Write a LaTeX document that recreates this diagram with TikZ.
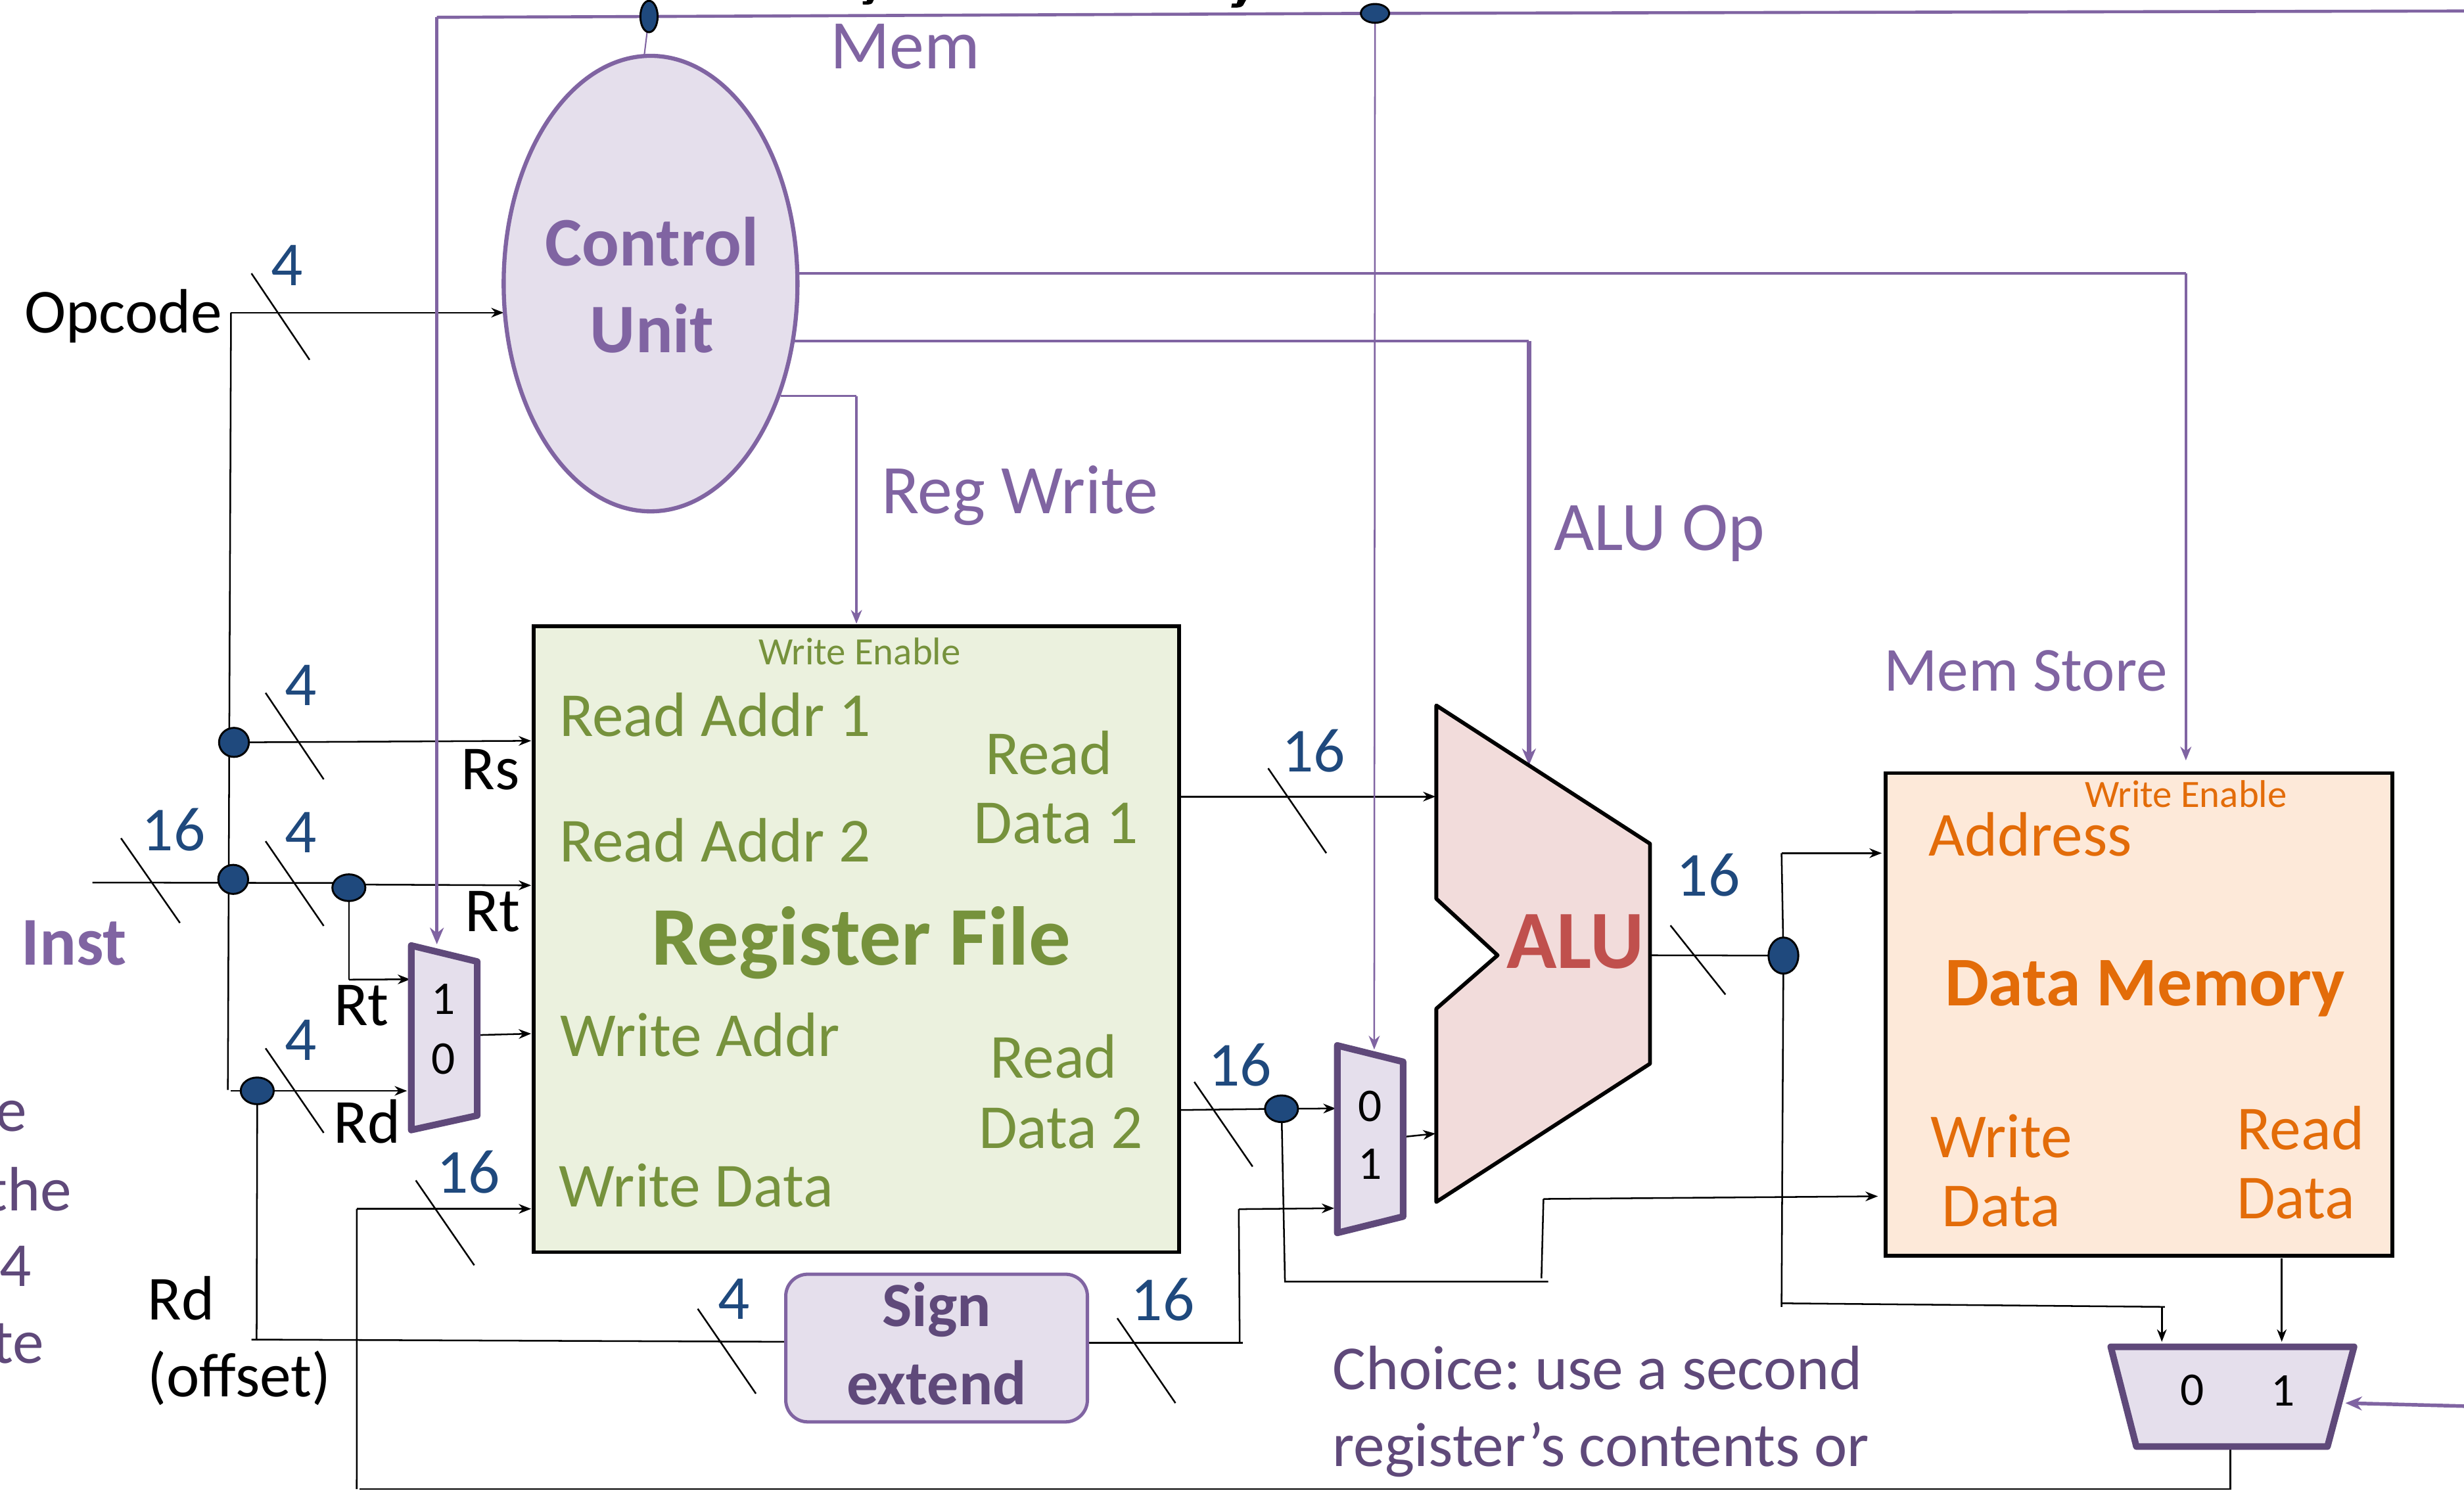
\documentclass[tikz,border=0pt]{standalone}
\usepackage{fontspec}
\setmainfont{Carlito}
\usetikzlibrary{arrows.meta,shapes.geometric,backgrounds}
\AtBeginDocument{\frenchspacing}
\definecolor{purp}{HTML}{8064A2}
\definecolor{dpurp}{HTML}{5F497A}
\definecolor{lpurp}{HTML}{E5DFEC}
\definecolor{navy}{HTML}{1F497D}
\definecolor{grn}{HTML}{76923C}
\definecolor{lgrn}{HTML}{EBF1DE}
\definecolor{org}{HTML}{E36C09}
\definecolor{lorg}{HTML}{FDE9D9}
\definecolor{lred}{HTML}{F2DCDB}
\definecolor{red2}{HTML}{C0504D}
\newcommand{\fsz}[1]{\fontsize{#1}{1.22\dimexpr #1pt\relax}\selectfont}
\tikzset{
  x=0.02cm,y=-0.02cm,
  lab/.style={inner sep=0,outer sep=0,align=center,font=\fsz{22.7}},
  num/.style={lab,text=navy},
  blk/.style={lab,text=black},
  pur/.style={lab,text=purp},
  biglab/.style={font=\fsz{25.2}},
  dpu/.style={lab,text=dpurp},
  gr/.style={lab,text=grn},
  or/.style={lab,text=org},
  mx/.style={lab,text=black,font=\fsz{17}},
  small/.style={font=\fsz{14}},
  bold/.style={font=\fsz{#1}\bfseries},
  wire/.style={draw=black,line width=0.6pt},
  awire/.style={wire,-{Stealth[length=4.5pt,width=3.5pt]}},
  pwire/.style={draw=purp,line width=1.1pt},
  apwire/.style={pwire,-{Stealth[length=6pt,width=5pt]}},
  tick/.style={draw=black,line width=0.6pt},
  jdot/.style={ellipse,draw=black,line width=0.7pt,fill=navy,inner sep=0,outer sep=0,minimum width=#1},
  blockb/.style={draw=black,line width=1.4pt,inner sep=0,outer sep=0},
  muxs/.style={draw=dpurp,fill=lpurp,line width=2.4pt,line join=round},
}
\begin{document}
\begin{tikzpicture}
\path[use as bounding box] (0,0) rectangle (1568,948.6);
% ---- cropped descenders at the top edge
\fill[black] (552,-1) -- (556.5,-1) -- (555,2) .. controls (554.5,3) and (551,3) .. (549,2.8) -- (549,0.8) -- (551.5,0.8) -- cycle;
\fill[black] (788,-1) -- (793.5,-1) -- (791,3.5) .. controls (790,5) and (786,5) .. (783.5,4.8) -- (784,2.2) -- (787,2.2) -- cycle;
% ---- blocks
\node[ellipse,draw=purp,fill=lpurp,line width=1.5pt,inner sep=0,outer sep=0,minimum width=3.74cm,minimum height=5.8cm] (ctrl) at (414,180.5) {};
\node[blockb,fill=lgrn,minimum width=8.22cm,minimum height=7.97cm] (reg) at (545,597.75) {};
\node[blockb,fill=lorg,minimum width=6.45cm,minimum height=6.146cm] (mem) at (1361.25,645.65) {};
\node[draw=purp,fill=lpurp,line width=1.2pt,rounded corners=0.28cm,inner sep=0,outer sep=0,minimum width=3.84cm,minimum height=1.88cm] (sign) at (596,858) {};
\draw[blockb,fill=lred,line join=round] (914,449) -- (1050,537) -- (1050,677) -- (914,765) -- (914,642) -- (953,608) -- (914,572) -- cycle;
\draw[muxs] (261.7,601.8) -- (303.7,612) -- (303.7,710) -- (261.7,719.2) -- cycle;
\draw[muxs] (851,665.4) -- (892.9,675.8) -- (892.9,774.3) -- (851,784.7) -- cycle;
\draw[muxs] (1343.2,857.2) -- (1498,857.2) -- (1481.1,920.7) -- (1359.5,920.7) -- cycle;
% ---- junctions
\node[jdot=0.22cm,minimum height=0.4cm] (jtopa) at (413,10.5) {};
\node[jdot=0.36cm,minimum height=0.24cm] (jtopb) at (875,8.5) {};
\node[jdot=0.38cm,minimum height=0.37cm] (ja) at (148.9,472.5) {};
\node[jdot=0.38cm,minimum height=0.37cm] (jb) at (148.4,559.7) {};
\node[jdot=0.42cm,minimum height=0.34cm] (jc) at (222,565) {};
\node[jdot=0.42cm,minimum height=0.34cm] (jd) at (163.7,694.3) {};
\node[jdot=0.42cm,minimum height=0.34cm] (je) at (815.5,705.7) {};
\node[jdot=0.38cm,minimum height=0.46cm] (jf) at (1134.9,608.2) {};
% ---- port coordinates
\coordinate (opc) at (147,199);
\coordinate (ctrlin) at (320.5,199);
\coordinate (instin) at (58.8,561.7);
\coordinate (jcw) at (214,562);
\coordinate (jcr) at (230,563);
\coordinate (regrs) at (338,471.5);
\coordinate (regrt) at (338,563.5);
\coordinate (regwa) at (338,657.9);
\coordinate (regwd) at (338,769.4);
\coordinate (mxaT) at (278,601);
\coordinate (mxaA) at (261,623.3);
\coordinate (mxaB) at (259,694.3);
\coordinate (mxaO) at (304,658.8);
\coordinate (rtbend) at (222,623.5);
\coordinate (leftend) at (145,693.7);
\coordinate (rdl) at (147,694.3);
\coordinate (offb) at (163.3,853.2);
\coordinate (offl) at (160,852.6);
\coordinate (signin) at (500,854);
\coordinate (signout) at (692,854.6);
\coordinate (signr) at (791,854.6);
\coordinate (sv) at (788.9,854.6);
\coordinate (sh) at (788.3,769.6);
\coordinate (mxbB) at (849,769);
\coordinate (mxbA) at (850,705.5);
\coordinate (mxbT) at (874.5,668);
\coordinate (mxbO) at (894,723.5);
\coordinate (aluB) at (913.5,721.5);
\coordinate (rdo1) at (751,507);
\coordinate (rdo2) at (751,706.5);
\coordinate (aluA) at (913.5,507);
\coordinate (aluT) at (973,487);
\coordinate (aluO) at (1050,608);
\coordinate (p1) at (817.7,815.7);
\coordinate (p2) at (985.2,815.7);
\coordinate (p3) at (980.9,813.6);
\coordinate (p4) at (982.2,763.1);
\coordinate (memwd) at (1195,761.4);
\coordinate (mema) at (1197.5,543);
\coordinate (q1) at (1133.7,543);
\coordinate (q2) at (1133.7,831.8);
\coordinate (q3) at (1133.4,829.5);
\coordinate (q4) at (1377.6,831.8);
\coordinate (q5) at (1375.7,831.8);
\coordinate (mxc0) at (1375.7,854);
\coordinate (memrd) at (1452,801);
\coordinate (mxc1) at (1452,854);
\coordinate (mxcO) at (1419.2,921);
\coordinate (mxcS) at (1492.5,893);
\coordinate (bot1) at (1419.2,947.8);
\coordinate (bot2) at (228.8,947.8);
\coordinate (bot3) at (227,947.8);
\coordinate (wd1) at (227.1,769.4);
\coordinate (ptopL) at (278,11);
\coordinate (ptopR) at (1568,7);
\coordinate (ctrltop) at (410,35);
\coordinate (c1) at (508,174);
\coordinate (c1b) at (1391,174);
\coordinate (mems) at (1391,484);
\coordinate (c2) at (505,217);
\coordinate (c2b) at (973,217);
\coordinate (c3) at (497,252);
\coordinate (c3b) at (545,252);
\coordinate (regwe) at (545,397);
\coordinate (rightin) at (1570,895);
% ---- connectors
\begin{scope}[on background layer]
\draw[awire] (opc) -- (ctrlin);
\draw[wire] (opc) -- (leftend);
\draw[wire] (rdl) -- (jd);
\draw[awire] (ja) -- (regrs);
\draw[wire] (instin) -- (jcw);
\draw[awire] (jcr) -- (regrt);
\draw[wire] (jc) -- (rtbend);
\draw[awire] (rtbend) -- (mxaA);
\draw[awire] (jd) -- (mxaB);
\draw[awire] (mxaO) -- (regwa);
\draw[wire] (jd) -- (offb);
\draw[wire] (offl) -- (signin);
\draw[wire] (signout) -- (signr);
\draw[wire] (sv) -- (sh);
\draw[awire] (sh) -- (mxbB);
\draw[awire] (wd1) -- (regwd);
\draw[wire] (wd1) -- (bot3);
\draw[wire] (mxcO) -- (bot1) -- (bot2);
\draw[awire] (rdo1) -- (aluA);
\draw[wire] (rdo2) -- (je);
\draw[awire] (je) -- (mxbA);
\draw[awire] (mxbO) -- (aluB);
\draw[wire] (je) -- (p1) -- (p2);
\draw[wire] (p3) -- (p4);
\draw[awire] (p4) -- (memwd);
\draw[wire] (aluO) -- (jf);
\draw[wire] (jf) -- (q1);
\draw[awire] (q1) -- (mema);
\draw[wire] (jf) -- (q2);
\draw[wire] (q3) -- (q4);
\draw[awire] (q5) -- (mxc0);
\draw[awire] (memrd) -- (mxc1);
% purple
\draw[pwire] (ptopL) -- (jtopa);
\draw[pwire] (jtopa) -- (jtopb);
\draw[pwire] (jtopb) -- (ptopR);
\draw[apwire] (ptopL) -- (mxaT);
\draw[draw=purp,line width=0.5pt] (jtopa) -- (ctrltop);
\draw[draw=purp,line width=0.6pt,-{Stealth[length=5pt,width=4pt]}] (jtopb) -- (mxbT);
\draw[draw=purp,line width=0.8pt] (c1) -- (c1b);
\draw[draw=purp,line width=0.8pt,-{Stealth[length=5pt,width=4pt]}] (c1b) -- (mems);
\draw[draw=purp,line width=0.8pt] (c2) -- (c2b);
\draw[apwire,line width=1.5pt] (c2b) -- (aluT);
\draw[draw=purp,line width=0.8pt] (c3) -- (c3b);
\draw[draw=purp,line width=0.8pt,-{Stealth[length=5pt,width=4pt]}] (c3b) -- (regwe);
\draw[apwire,line width=1.3pt] (rightin) -- (mxcS);
\end{scope}
% ---- bus ticks
\draw[tick] (160,174) -- (197,229);
\draw[tick] (169,441) -- (206,496);
\draw[tick] (169,535.4) -- (206,589.3);
\draw[tick] (77,533.5) -- (114.5,587.4);
\draw[tick] (169,667.2) -- (206,721);
\draw[tick] (264.6,751.3) -- (301.8,805.3);
\draw[tick] (444,833) -- (481,887);
\draw[tick] (711,839) -- (748,893);
\draw[tick] (807,489) -- (844,543);
\draw[tick] (760,688.6) -- (797.1,742.5);
\draw[tick] (1063,589) -- (1098,633);
% ---- texts
\node[blk] (topop) at (78.5,201) {Opcode};
\node[num] (n1) at (182.5,169) {4};
\node[num] (n2) at (191.5,436) {4};
\node[num] (n3) at (110.5,528) {16};
\node[num] (n4) at (191.5,530) {4};
\node[num] (n5) at (191.5,662) {4};
\node[num] (n6) at (298,746) {16};
\node[num] (n7) at (467,827) {4};
\node[num] (n8) at (740,827) {16};
\node[num] (n9) at (836,478) {16};
\node[num] (n10) at (789,678) {16};
\node[num] (n11) at (1087,557) {16};
\node[blk] (trs) at (312,490) {Rs};
\node[blk] (trt) at (313.5,580) {Rt};
\node[blk] (trt2) at (230,640) {Rt};
\node[blk] (trd) at (233.5,714) {Rd};
\node[blk,anchor=west] (toff1) at (94,826.5) {Rd};
\node[blk,anchor=west] (toff2) at (94,877) {(offset)};
\node[pur,bold=24.8] (tinst) at (47,600) {Inst};
\node[dpu,anchor=east] (f1) at (17,710.5) {e};
\node[dpu,anchor=east] (f2) at (45.5,757) {the};
\node[dpu,anchor=east] (f3) at (20,806) {4};
\node[dpu,anchor=east] (f4) at (28,855) {te};
\node[pur,biglab] (tmem) at (576,29.5) {Mem};
\node[pur,biglab] (trw) at (649,315.5) {Reg Write};
\node[pur,biglab] (taop) at (1056,339.5) {ALU Op};
\node[pur] (tms) at (1289,427) {Mem Store};
\node[pur,bold=25.2] (tc1) at (415,154) {Control};
\node[pur,bold=25.2] (tc2) at (415,209) {Unit};
\node[gr,small] (twe) at (547,414.5) {Write Enable};
\node[gr] (tra1) at (455,455) {Read Addr 1};
\node[gr] (tra2) at (455,535) {Read Addr 2};
\node[gr] (trd1a) at (667.5,479) {Read};
\node[gr] (trd1b) at (672,524) {Data 1};
\node[gr,bold=30.2] (trf) at (548,600) {Register File};
\node[gr] (twa) at (445.5,658.5) {Write Addr};
\node[gr] (trd2a) at (670.5,672.5) {Read};
\node[gr] (trd2b) at (675,718) {Data 2};
\node[gr] (twd) at (443,754.5) {Write Data};
\node[lab,text=red2,bold=30] (talu) at (1002.5,599.5) {ALU};
\node[dpu,bold=22.8] (ts1) at (596,833.5) {Sign};
\node[dpu,bold=22.8] (ts2) at (596,880) {extend};
\node[or,small] (twe2) at (1391,505.5) {Write Enable};
\node[or] (tad) at (1292,531) {Address};
\node[or,bold=25.3] (tdm) at (1365,629) {Data Memory};
\node[or] (tw1) at (1273.5,723) {Write};
\node[or] (tw2) at (1273.5,768) {Data};
\node[or] (tr1) at (1464,718) {Read};
\node[or] (tr2) at (1461,763) {Data};
\node[dpu,anchor=west] (tch1) at (848,870.5) {Choice: use a second};
\node[dpu,anchor=west] (tch2) at (848,922.5) {register’s contents or};
\node[mx] (m1) at (282,636) {1};
\node[mx] (m0) at (282,674) {0};
\node[mx] (m2) at (872,704) {0};
\node[mx] (m3) at (872,741) {1};
\node[mx] (m4) at (1395,885) {0};
\node[mx] (m5) at (1453,885) {1};
\end{tikzpicture}
\end{document}
